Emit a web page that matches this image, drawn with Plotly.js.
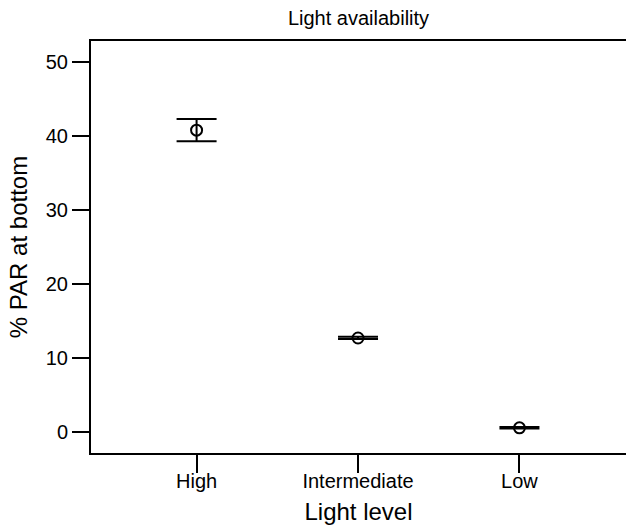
<!DOCTYPE html>
<html>
<head>
<meta charset="utf-8">
<script src="https://cdn.plot.ly/plotly-3.0.1.min.js"></script>
<style>html,body{margin:0;padding:0;background:#fff;}#chart{width:626px;height:528px;}</style>
</head>
<body>
<div id="chart"></div>
<script>
const categories = ["High", "Intermediate", "Low"];
const meanPAR = [40.85, 12.75, 0.6];
const errUpper = [1.5, 0.15, 0.1];
const errLower = [1.5, 0.15, 0.1];
const yTicks = [0, 10, 20, 30, 40, 50];

const FONT = "Liberation Sans, Arial, Helvetica, sans-serif";

const trace = {
  type: "scatter",
  mode: "markers",
  x: categories,
  y: meanPAR,
  marker: {symbol: "circle-open", size: 11, color: "#000", line: {width: 2, color: "#000"}},
  error_y: {type: "data", symmetric: false, array: errUpper, arrayminus: errLower,
            color: "#000", thickness: 2, width: 20},
  showlegend: false,
  hoverinfo: "none"
};

const layout = {
  width: 626, height: 528,
  margin: {l: 91, r: 0, t: 41, b: 75},
  paper_bgcolor: "#fff", plot_bgcolor: "#fff",
  font: {family: FONT, color: "#000", size: 20},
  title: {text: "Light availability", font: {family: FONT, size: 20, color: "#000"},
          xref: "paper", x: 0.5, xanchor: "center", yref: "container", y: 0.966, yanchor: "middle"},
  xaxis: {
    type: "category", range: [-0.654, 2.66],
    showline: true, linecolor: "#000", linewidth: 2, mirror: true,
    ticks: "outside", ticklen: 18, tickwidth: 2, tickcolor: "#000",
    ticklabelstandoff: -9,
    showgrid: false, zeroline: false,
    tickfont: {family: FONT, size: 20, color: "#000"},
    title: {text: "Light level", font: {family: FONT, size: 24, color: "#000"}, standoff: 12}
  },
  yaxis: {
    range: [-2.8, 52.9],
    tickvals: yTicks, ticktext: yTicks.map(String),
    showline: true, linecolor: "#000", linewidth: 2, mirror: false,
    ticks: "outside", ticklen: 17, tickwidth: 2, tickcolor: "#000",
    showgrid: false, zeroline: false,
    tickfont: {family: FONT, size: 20, color: "#000"},
    title: {text: "% PAR at bottom", font: {family: FONT, size: 24, color: "#000"}, standoff: 11}
  }
};

Plotly.newPlot("chart", [trace], layout, {displayModeBar: false, staticPlot: true});
</script>
</body>
</html>
